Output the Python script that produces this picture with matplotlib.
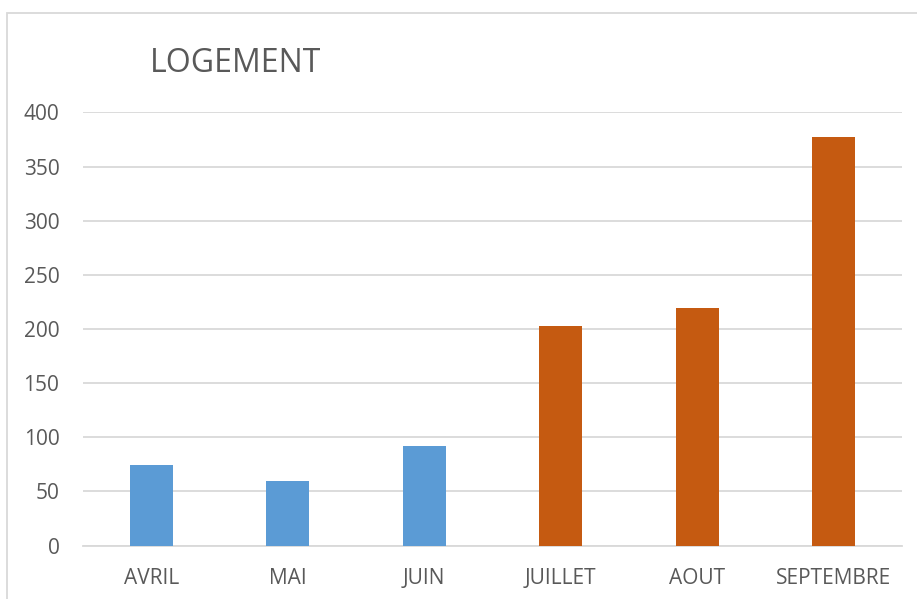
import matplotlib
matplotlib.use("Agg")
import matplotlib.pyplot as plt
from matplotlib.patches import Rectangle

# --- data ---
months = ["AVRIL", "MAI", "JUIN", "JUILLET", "AOUT", "SEPTEMBRE"]
values = [74, 60, 92, 203, 219, 377]
bar_colors = ["#5B9BD5", "#5B9BD5", "#5B9BD5", "#C55A11", "#C55A11", "#C55A11"]
yticks = [0, 50, 100, 150, 200, 250, 300, 350, 400]

TEXT = "#595959"
GRID = "#D9D9D9"

plt.rcParams["font.family"] = ["Open Sans", "DejaVu Sans"]

fig = plt.figure(figsize=(9.17, 5.99), dpi=100)
ax = fig.add_axes([0.0905, 0.0893, 0.8931, 0.7229])

x = range(len(months))
ax.bar(x, values, width=0.315, color=bar_colors, zorder=3)

ax.set_xlim(-0.5, len(months) - 0.5)
ax.set_ylim(0, 400)
ax.set_yticks(yticks)
ax.set_xticks(list(x))
ax.set_xticklabels(months)

ax.grid(axis="y", color=GRID, linewidth=1.3, zorder=0)
for s in ["top", "right", "left"]:
    ax.spines[s].set_visible(False)
ax.spines["bottom"].set_color(GRID)
ax.spines["bottom"].set_linewidth(1.3)
ax.tick_params(axis="both", length=0, colors=TEXT, labelsize=15)
ax.tick_params(axis="y", pad=17)
ax.tick_params(axis="x", pad=16)

fig.text(150 / 917, 1 - 63 / 599, "LOGEMENT", fontsize=23, color=TEXT,
         ha="left", va="center")

# chart frame (cropped at right and bottom)
fig.patches.append(Rectangle((7 / 917, -0.05), 1.2, 1 - 13 / 599 + 0.05,
                             transform=fig.transFigure, fill=False,
                             edgecolor=GRID, linewidth=1.3))

fig.savefig("out.png", dpi=100)
